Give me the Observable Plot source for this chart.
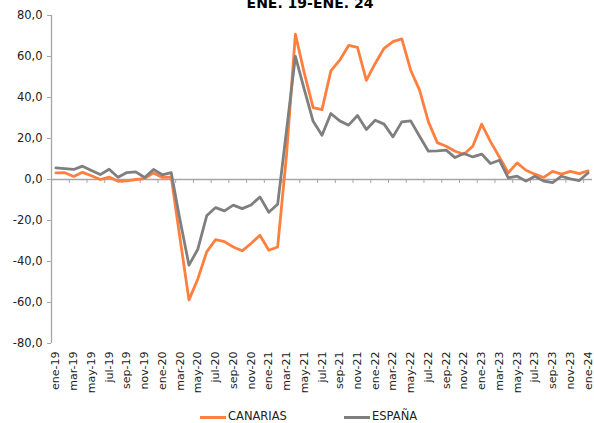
<!DOCTYPE html>
<html>
<head>
<meta charset="utf-8">
<script src="https://cdn.jsdelivr.net/npm/d3@7"></script>
<script src="https://cdn.jsdelivr.net/npm/@observablehq/plot@0.6"></script>
<style>
  body { margin: 0; background: #fff; font-family: "DejaVu Sans", Verdana, sans-serif; }
  #wrap { width: 594px; height: 423px; overflow: hidden; position: relative; background: #fff; }
  #title { height: 8px; position: relative; overflow: visible; }
  #title span { position: absolute; left: 0; width: 620px; top: -4px; text-align: center;
    font-weight: bold; font-size: 14px; line-height: 14px; color: #000; white-space: nowrap; }
  #chart svg { display: block; }
  #legend { position: relative; height: 23px; }
  .sw { position: absolute; top: 16px; height: 3px; width: 26px; }
  .lt { position: absolute; top: 10px; font-size: 11.5px; line-height: 12px; color: #222; white-space: nowrap; }
</style>
</head>
<body>
<div id="wrap">
  <div id="title"><span>ENE. 19-ENE. 24</span></div>
  <div id="chart"></div>
  <div id="legend">
    <div class="sw" style="left:200px;background:#ff7f3f"></div><div class="lt" style="left:228px">CANARIAS</div>
    <div class="sw" style="left:344px;background:#7f7f7f"></div><div class="lt" style="left:372px">ESPAÑA</div>
  </div>
</div>
<script>
const months = [
  "ene-19","feb-19","mar-19","abr-19","may-19","jun-19","jul-19","ago-19","sep-19","oct-19","nov-19","dic-19",
  "ene-20","feb-20","mar-20","abr-20","may-20","jun-20","jul-20","ago-20","sep-20","oct-20","nov-20","dic-20",
  "ene-21","feb-21","mar-21","abr-21","may-21","jun-21","jul-21","ago-21","sep-21","oct-21","nov-21","dic-21",
  "ene-22","feb-22","mar-22","abr-22","may-22","jun-22","jul-22","ago-22","sep-22","oct-22","nov-22","dic-22",
  "ene-23","feb-23","mar-23","abr-23","may-23","jun-23","jul-23","ago-23","sep-23","oct-23","nov-23","dic-23",
  "ene-24"
];
const canarias = [
  3.2, 3.3, 1.5, 3.5, 1.8, 0.0, 1.2, -0.9, -0.7, 0.0, 0.4, 3.2,
  1.0, 1.2, -29.0, -58.7, -48.5, -35.3, -29.3, -30.3, -32.9, -34.8, -31.2, -27.2,
  -34.5, -32.9, 12.0, 70.9, 52.0, 35.1, 34.1, 53.0, 58.2, 65.4, 64.4, 48.4,
  56.6, 64.0, 67.3, 68.6, 53.3, 43.6, 28.1, 18.0, 16.2, 13.8, 12.3, 16.2,
  27.0, 18.5, 11.0, 3.2, 8.1, 4.5, 2.6, 1.0, 4.0, 2.6, 4.0, 2.9,
  4.2
];
const espana = [
  5.7, 5.3, 4.9, 6.5, 4.4, 2.4, 5.0, 1.1, 3.4, 3.7, 1.0, 4.9,
  2.3, 3.3, -20.0, -41.8, -34.0, -17.7, -13.7, -15.3, -12.5, -14.2, -12.4, -8.5,
  -16.0, -12.1, 24.0, 60.1, 44.0, 28.4, 21.6, 32.2, 28.6, 26.5, 31.2, 24.4,
  28.9, 27.0, 20.8, 28.1, 28.6, 21.1, 13.8, 14.0, 14.3, 10.7, 12.7, 11.0,
  12.4, 7.8, 9.4, 0.8, 1.6, -0.8, 1.6, -0.8, -1.5, 1.6, 0.3, -0.5,
  3.2
];
const yTicks = [-80, -60, -40, -20, 0, 20, 40, 60, 80];
const labelIdx = months.map((m, i) => i).filter(i => i % 2 === 0);
const boundaryTicks = months.map((m, i) => i + 0.5).filter(b => Math.floor(b) % 2 === 1 && b < months.length - 1);

const axisColor = "#a6a6a6";
const fmt = d => d.toFixed(1).replace(".", ",");

const chart = Plot.plot({
  width: 594,
  height: 392,
  marginTop: 7,
  marginBottom: 57,
  marginLeft: 51,
  marginRight: 2,
  style: { fontFamily: "'DejaVu Sans', Verdana, sans-serif", fontSize: "11px", background: "#fff", color: "#222" },
  x: { type: "linear", domain: [-0.5, months.length - 0.5] },
  y: { domain: [-80, 80] },
  marks: [
    Plot.ruleY([0], { stroke: axisColor, strokeWidth: 1.3 }),
    Plot.ruleX(boundaryTicks, { x: d => d, y1: 0, y2: 0, insetBottom: -4, stroke: axisColor }),
    Plot.ruleX([-0.5], { stroke: axisColor, strokeWidth: 1.3 }),
    Plot.axisY({ ticks: yTicks, tickSize: 4, tickPadding: 5, tickFormat: fmt, stroke: axisColor, fill: "#222", fontSize: 11.5, label: null }),
    Plot.axisX({ ticks: labelIdx, tickSize: 0, tickPadding: 8, tickRotate: -90, tickFormat: i => months[i], fill: "#222", fontSize: 11, label: null }),
    Plot.line(canarias, { x: (d, i) => i, y: d => d, stroke: "#ff7f3f", strokeWidth: 2.8, strokeLinejoin: "round" }),
    Plot.line(espana, { x: (d, i) => i, y: d => d, stroke: "#7f7f7f", strokeWidth: 2.8, strokeLinejoin: "round" })
  ]
});
document.getElementById("chart").appendChild(chart);
</script>
</body>
</html>
